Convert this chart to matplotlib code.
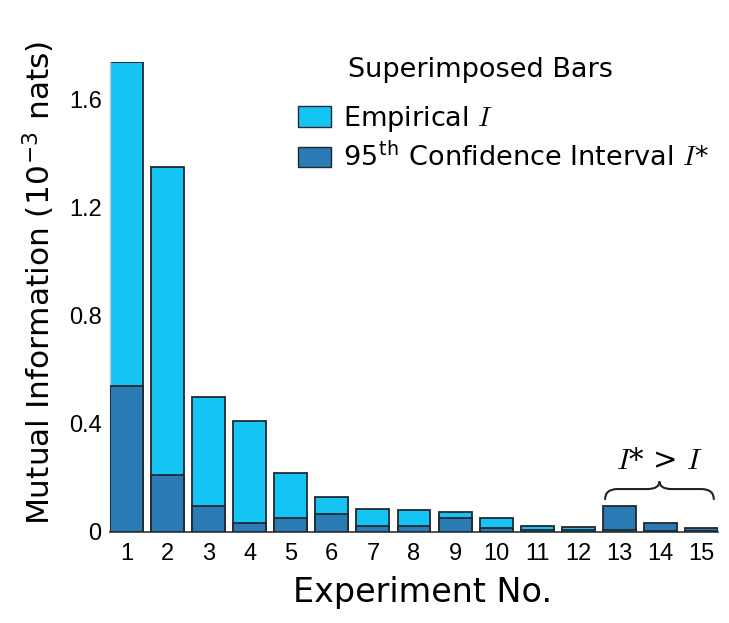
import matplotlib
matplotlib.use('Agg')
import matplotlib.pyplot as plt
from matplotlib.patches import Patch, PathPatch
from matplotlib.path import Path

plt.rcParams['mathtext.fontset'] = 'cm'

experiments = list(range(1, 16))
empirical = [1.74, 1.35, 0.50, 0.41, 0.22, 0.13, 0.085, 0.08, 0.074,
             0.053, 0.022, 0.018, 0.008, 0.004, 0.003]
conf95 = [0.54, 0.21, 0.096, 0.035, 0.05, 0.065, 0.024, 0.022, 0.05,
          0.015, 0.007, 0.006, 0.097, 0.032, 0.013]
yticks = [0, 0.4, 0.8, 1.2, 1.6]
ytick_labels = ['0', '0.4', '0.8', '1.2', '1.6']

light = '#14c4f4'
dark = '#2a7bb4'
edge = '#222831'

fig = plt.figure(figsize=(7.29, 6.23), dpi=100)
ax = fig.add_axes([110/729, 1-532/623, (718-110)/729, (532-62)/623])

# taller bar goes behind, shorter one in front
for x, e, c in zip(experiments, empirical, conf95):
  pairs = sorted([(e, light), (c, dark)], reverse=True)
  for z, (h, col) in enumerate(pairs):
    ax.bar(x, h, width=0.8, color=col, edgecolor=edge, linewidth=1.3, zorder=2+z)

ax.set_xlim(0.6, 15.4)
ax.set_ylim(0, 1.74)
ax.set_xticks(experiments)
ax.set_xticklabels([str(x) for x in experiments], fontsize=17, family='Liberation Sans')
ax.set_yticks(yticks)
ax.set_yticklabels(ytick_labels, fontsize=17, family='Liberation Sans')
ax.tick_params(length=0, pad=6)
ax.tick_params(axis='x', pad=8)

for s in ['top', 'right']:
  ax.spines[s].set_visible(False)
ax.spines['left'].set_color('#b9c3cf')
ax.spines['left'].set_linewidth(1.0)
ax.spines['bottom'].set_color('#333333')
ax.spines['bottom'].set_linewidth(1.2)

ax.set_xlabel('Experiment No.', fontsize=24)
ax.set_ylabel(r'Mutual Information (10$^{\mathregular{-3}}$ nats)', fontsize=22.5)
ax.xaxis.set_label_coords((423-110)/608, -(576-532)/470)
ax.yaxis.set_label_coords(-(110-57)/608, (532-283)/470)

fig.text(481/729, 1-70/623, 'Superimposed Bars', ha='center', va='center', fontsize=19.5)

handles = [Patch(facecolor=light, edgecolor=edge, linewidth=1.0),
           Patch(facecolor=dark, edgecolor=edge, linewidth=1.0)]
labels = [r'Empirical $I$', r'95$^{\mathregular{th}}$ Confidence Interval $I$*']
leg = fig.legend(handles, labels, loc='upper left',
                 bbox_to_anchor=(298/729, 1-104/623), frameon=False,
                 fontsize=19.5, handlelength=1.2, handleheight=0.8,
                 handletextpad=0.45, labelspacing=0.3, borderpad=0, borderaxespad=0)

# brace over experiments 13-15
x0 = experiments[12] - 0.35
x1 = experiments[14] + 0.3
xm = (x0 + x1) / 2
ytop = max(max(empirical[12:]), max(conf95[12:]))
y_end = ytop + 0.022
y_bar = ytop + 0.062
y_tip = ytop + 0.09
k = 0.3
verts = [(x0, y_end), (x0, y_bar), (x0 + k, y_bar),
         (xm - k, y_bar),
         (xm, y_bar), (xm, y_tip),
         (xm, y_bar), (xm + k, y_bar),
         (x1 - k, y_bar),
         (x1, y_bar), (x1, y_end)]
codes = [Path.MOVETO, Path.CURVE3, Path.CURVE3,
         Path.LINETO,
         Path.CURVE3, Path.CURVE3,
         Path.CURVE3, Path.CURVE3,
         Path.LINETO,
         Path.CURVE3, Path.CURVE3]
ax.add_patch(PathPatch(Path(verts, codes), facecolor='none', edgecolor='#222222',
                       linewidth=1.5, zorder=5, clip_on=False))
ax.text(xm, y_tip + 0.025, r'$I$* > $I$', ha='center', va='bottom', fontsize=21,
        family='DejaVu Serif')

fig.savefig('out.png', dpi=100)
